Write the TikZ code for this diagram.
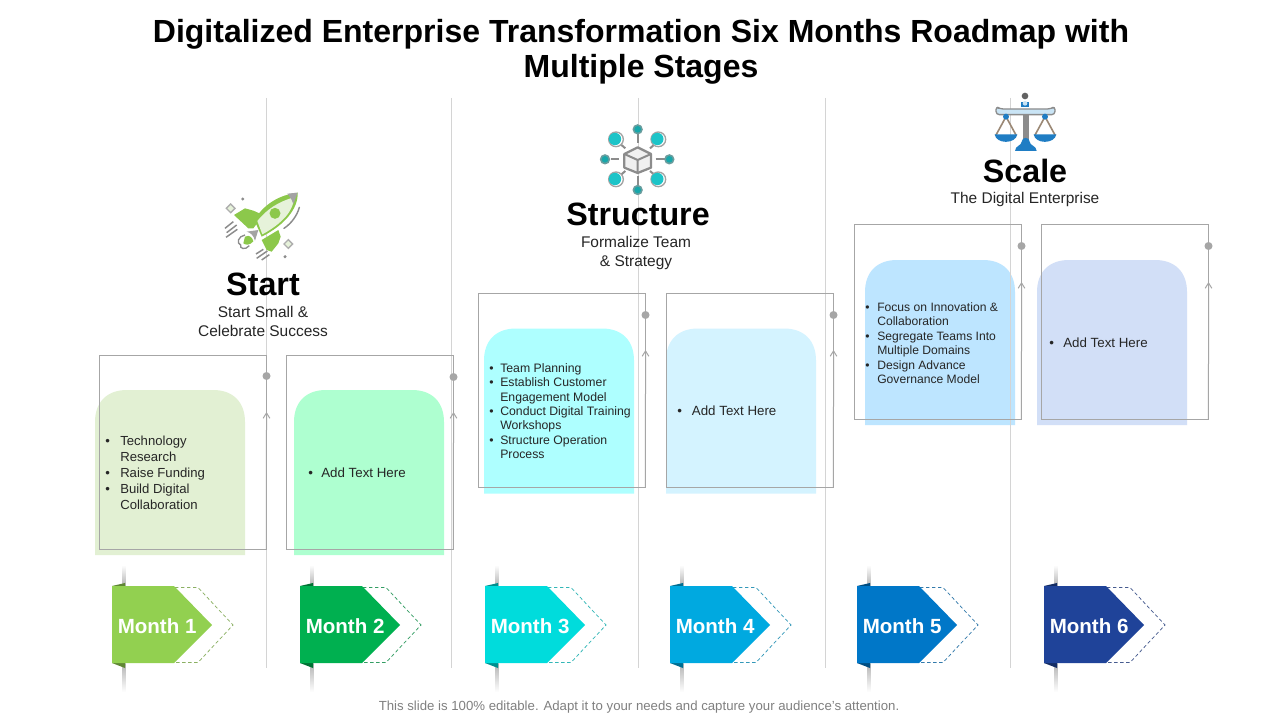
\documentclass[tikz,border=0pt]{standalone}
\usepackage{fontspec}
\setmainfont{Liberation Sans}
\usetikzlibrary{arrows.meta}
\definecolor{lineg}{HTML}{D4D4D4}
\definecolor{frameg}{HTML}{A6A6A6}
\definecolor{txt}{HTML}{262626}
\definecolor{rockg}{HTML}{8CC84B}
\definecolor{rockl}{HTML}{E6F2DA}
\definecolor{iconG}{HTML}{8C8C8C}
\definecolor{teal1}{HTML}{1CC4C8}
\definecolor{sblue}{HTML}{1F7DC4}
\definecolor{sbeam}{HTML}{C9E4F5}
\definecolor{c1}{HTML}{E2F0D3}
\definecolor{c2}{HTML}{AEFFD0}
\definecolor{c3}{HTML}{AEFFFF}
\definecolor{c4}{HTML}{D4F3FF}
\definecolor{c5}{HTML}{BDE5FF}
\definecolor{c6}{HTML}{D2DFF7}
\definecolor{m1}{HTML}{92D050}
\definecolor{m2}{HTML}{00B050}
\definecolor{m3}{HTML}{00DCDC}
\definecolor{m4}{HTML}{00A9E0}
\definecolor{m5}{HTML}{0077C8}
\definecolor{m6}{HTML}{1F4399}
\tikzset{
  vline/.style={draw=lineg,line width=0.75pt},
  frame/.style={draw=frameg,line width=0.75pt,minimum width=125.6pt,minimum height=145.5pt,anchor=north west,inner sep=0pt,outer sep=0pt},
  dotn/.style={circle,fill=frameg,minimum size=6pt,inner sep=0pt},
  uparrow/.style={draw=frameg,line width=0.75pt,-{Straight Barb[length=4pt,width=5pt]}},
  bodytxt/.style={anchor=west,inner sep=0pt,text=txt},
  head/.style={font=\fontsize{24.2pt}{28pt}\selectfont\bfseries,text=black,inner sep=0pt},
  sub/.style={font=\fontsize{11.6pt}{14.3pt}\selectfont,text=txt,align=center,inner sep=0pt},
  monthtxt/.style={font=\fontsize{15.4pt}{18pt}\selectfont\bfseries,text=white,inner sep=0pt,anchor=west},
}
\newcommand{\cardshape}[3]{%
  \fill[#3] (#1,#2+165) -- (#1,#2+32) .. controls (#1,#2+12) and ({#1+12},#2) .. ({#1+32},#2)
    -- ({#1+118},#2) .. controls ({#1+138},#2) and ({#1+150},#2+12) .. ({#1+150},#2+32)
    -- ({#1+150},#2+165) -- cycle;}
\newcommand{\monthmark}[4]{%
  \shade[top color=white,bottom color=black!30] ({#2+10.5},565) rectangle ({#2+13.5},586);
  \shade[top color=black!30,bottom color=white] ({#2+10.5},663) rectangle ({#2+13.5},692);
  \fill[#3!65!black] ({#2},586) -- ({#2+13},583) -- ({#2+13},586) -- cycle;
  \fill[#3!65!black] ({#2},663) -- ({#2+13},668) -- ({#2+13},663) -- cycle;
  \draw[#3!60!gray,line width=0.55pt,dash pattern=on 2.6pt off 1.9pt] ({#2+63},587.5) -- ({#2+86},587.5) -- ({#2+121},625) -- ({#2+86},662.5) -- ({#2+63},662.5);
  \fill[#3] ({#2},586) -- ({#2+62},586) -- ({#2+100},625) -- ({#2+62},663) -- ({#2},663) -- cycle;
  \node[monthtxt] (#1) at ({#2+5.5},626) {#4};}
\newcommand{\bultab}[4]{\fontsize{#2}{#3}\selectfont\begin{tabular}{@{}p{#1}@{}l@{}}#4\end{tabular}}
\begin{document}
\begin{tikzpicture}[x=0.75pt,y=-0.75pt]
\useasboundingbox (0,0) rectangle (1280,720);
\fill[white] (0,0) rectangle (1280,720);

% cards
\cardshape{95}{390}{c1}
\cardshape{294}{390}{c2}
\cardshape{484}{328.5}{c3}
\cardshape{666}{328.5}{c4}
\cardshape{865}{260}{c5}
\cardshape{1037}{260}{c6}

% vertical separators
\coordinate (vt1) at (266,98); \coordinate (vb1) at (266,668);
\coordinate (vt2) at (451,98); \coordinate (vb2) at (451,668);
\coordinate (vt3) at (638,98); \coordinate (vb3) at (638,668);
\coordinate (vt4) at (825,98); \coordinate (vb4) at (825,668);
\coordinate (vt5) at (1010,98); \coordinate (vb5) at (1010,668);
\foreach \i in {1,...,5} \draw[vline] (vt\i) -- (vb\i);

% frames, dots and rising arrows
\foreach \n/\x/\y/\yd/\ya in {1/99/355/376/412,2/286/355/377/412,3/478/293/315/350,4/666/293/315/350,5/854/225/246/282,6/1041/225/246/282}{
  \node[frame] (f\n) at (\x,\y) {};
  \node[dotn] (d\n) at ({\x+167.5},\yd) {};
  \coordinate (a\n) at ({\x+167.5},\ya);
  \draw[uparrow] (f\n.south east) -- (a\n);
}

% card text
\node[bodytxt] (t1) at (105,474.5) {\bultab{11.25pt}{9.85pt}{12pt}{•&Technology\\&Research\\•&Raise Funding\\•&Build Digital\\&Collaboration}};
\node[bodytxt] (t2) at (308,474.5) {\bultab{9.75pt}{10pt}{12pt}{•&Add Text Here}};
\node[bodytxt] (t3) at (489,412.5) {\bultab{8.25pt}{9.2pt}{10.75pt}{•&Team Planning\\•&Establish Customer\\&Engagement Model\\•&Conduct Digital Training\\&Workshops\\•&Structure Operation\\&Process}};
\node[bodytxt] (t4) at (677,412.5) {\bultab{11pt}{10pt}{12pt}{•&Add Text Here}};
\node[bodytxt] (t5) at (865,344.5) {\bultab{9pt}{9.1pt}{10.9pt}{•&Focus on Innovation \&\\&Collaboration\\•&Segregate Teams Into\\&Multiple Domains\\•&Design Advance\\&Governance Model}};
\node[bodytxt] (t6) at (1049,344.5) {\bultab{10.5pt}{10pt}{12pt}{•&Add Text Here}};

% months
\monthmark{mo1}{112}{m1}{Month 1}
\monthmark{mo2}{300}{m2}{Month 2}
\monthmark{mo3}{485}{m3}{Month 3}
\monthmark{mo4}{670}{m4}{Month 4}
\monthmark{mo5}{857}{m5}{Month 5}
\monthmark{mo6}{1044}{m6}{Month 6}

% title, headings, footer
\node[font=\fontsize{24pt}{26.2pt}\selectfont\bfseries,align=center,text=black,inner sep=0pt] (title) at (641,52) {Digitalized Enterprise Transformation Six Months Roadmap with\\Multiple Stages};
\node[head] (h1) at (263,284) {Start};
\node[sub] (s1) at (263,321.5) {Start Small \&\\Celebrate Success};
\node[head] (h2) at (638,214) {Structure};
\node[sub] (s2) at (636,253) {Formalize Team\\\& Strategy};
\node[head] (h3) at (1025,171) {Scale};
\node[sub] (s3) at (1025,200) {The Digital Enterprise};
\node[font=\fontsize{9.9pt}{12pt}\selectfont,text=black!50,inner sep=0pt] (foot) at (639,707.5) {This slide is 100\% editable. Adapt it to your needs and capture your audience's attention.};

% rocket icon
\begin{scope}[shift={(210,180)},x=0.25pt,y=-0.25pt]
  \draw[iconG,line width=1.1pt,line cap=round] (222,145) .. controls (245,130) and (262,105) .. (268,82);
  \fill[rockg] (72,105) -- (105,85) -- (130,92) -- (160,105) -- (130,145) -- (115,145) -- cycle;
  \fill[rockg] (155,180) -- (205,150) -- (212,170) -- (205,190) -- (185,215) -- (170,210) -- cycle;
  \fill[rockg] (133,120) .. controls (160,75) and (205,45) .. (263,38) .. controls (265,85) and (225,135) .. (155,170) -- cycle;
  \fill[rockl] (142,123) .. controls (170,88) and (205,65) .. (252,52) .. controls (252,90) and (218,130) .. (157,163) -- cycle;
  \fill[iconG!80] (232,41) -- (263,38) -- (250,72) .. controls (245,58) and (240,50) .. (232,41) -- cycle;
  \fill[rockg] (195,100) circle (16.5);
  \fill[iconG!80] (110,155) -- (145,150) -- (135,182) .. controls (130,165) and (122,158) .. (110,155) -- cycle;
  \fill[rockg] (105,170) .. controls (120,162) and (128,175) .. (130,184) .. controls (120,196) and (106,196) .. (100,190) -- cycle;
  \draw[iconG,line width=1pt] (105,165) .. controls (85,168) and (78,190) .. (92,195) .. controls (88,205) and (105,212) .. (118,197);
  \foreach \a/\b/\c/\d in {45/145/70/125,50/158/80/135,48/172/82/148,138/222/160/208,140/235/172/213,155/240/178/224}
    \draw[iconG,line width=1.1pt] (\a,\b) -- (\c,\d);
  \draw[iconG!70,fill=rockl,line width=1pt] (62,72) -- (75,85) -- (62,98) -- (49,85) -- cycle;
  \draw[iconG!70,fill=rockl,line width=1pt] (235,179) -- (248,192) -- (235,205) -- (222,192) -- cycle;
  \fill[iconG] (98,57) circle (5);
  \fill[iconG] (225,230) circle (5);
\end{scope}

% network icon
\begin{scope}[shift={(590,115)},x=0.25pt,y=-0.25pt]
  \foreach \a/\b/\c/\d in {143/55/143/85,143/182/143/212,62/133/88/133,197/133/225/133,92/88/106/100,180/100/194/88,92/180/106/168,180/168/194/180}
    \draw[iconG,line width=1.5pt] (\a,\b) -- (\c,\d);
  \draw[iconG,fill=black!6,line width=1.7pt,line join=round] (143,97) -- (183,117) -- (183,158) -- (143,174) -- (103,158) -- (103,117) -- cycle;
  \draw[iconG,line width=1.5pt,line join=round] (103,117) -- (143,135) -- (183,117) (143,135) -- (143,174);
  \foreach \x/\y in {143/43,45/133,238/133,143/225}{
    \fill[iconG!70!teal1] (\x,\y) circle (15.5);
    \fill[teal1!85!black] (\x,\y) circle (10);
  }
  \foreach \x/\y in {78/73,205/73,78/193,205/193}{
    \draw[iconG!80,fill=white,line width=1pt] (\x,\y) circle (22);
    \fill[teal1] (\x-3,\y-1) circle (18.5);
  }
\end{scope}

% scales icon
\begin{scope}[shift={(980,85)},x=0.25pt,y=-0.25pt]
  \fill[iconG] (128,85) rectangle (146,170);
  \draw[iconG!70!brown,line width=1.2pt] (78,95) -- (47,152) (78,95) -- (109,152);
  \draw[iconG!70!brown,line width=1.2pt] (195,95) -- (164,152) (195,95) -- (226,152);
  \draw[iconG,fill=sbeam,line width=1pt,rounded corners=2.5pt] (48,64) -- (48,89) -- (225,89) -- (225,64) -- (212,72) -- (60,72) -- cycle;
  \fill[sblue] (44,148) .. controls (48,178) and (107,178) .. (112,148) -- cycle;
  \fill[sblue] (161,148) .. controls (165,178) and (224,178) .. (229,148) -- cycle;
  \fill[sblue] (78,95) circle (9);
  \fill[sblue] (195,95) circle (9);
  \fill[sblue] (105,198) .. controls (105,182) and (125,182) .. (125,170) .. controls (125,155) and (149,155) .. (149,170) .. controls (149,182) and (170,182) .. (170,198) -- cycle;
  \fill[sblue] (122,50) rectangle (148,66);
  \fill[iconG!70!black] (135,33) circle (10);
  \fill[sbeam] (135,55) circle (7);
\end{scope}
\end{tikzpicture}
\end{document}
